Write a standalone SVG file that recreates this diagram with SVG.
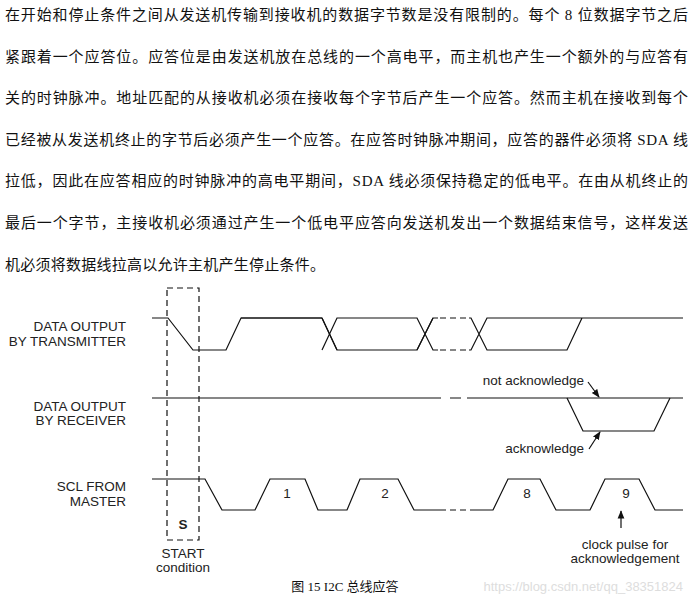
<svg xmlns="http://www.w3.org/2000/svg" width="695" height="598" viewBox="0 0 695 598">
<style>
.p{font-family:"Liberation Serif","Noto Sans CJK SC",serif;font-size:15px;fill:#111}
.l{font-family:"Liberation Sans",Arial,sans-serif;font-size:13.5px;fill:#222}
.w{fill:none;stroke:#111;stroke-width:1.2}
.d{fill:none;stroke:#111;stroke-width:1.2;stroke-dasharray:6,4}
</style>
<defs><marker id="a" viewBox="0 0 10 10" refX="9" refY="5" markerWidth="7" markerHeight="7" orient="auto"><path d="M0,1 L10,5 L0,9 z" fill="#111"/></marker></defs>
<rect width="695" height="598" fill="#fff"/>
<g id="paragraph">
<text class="p" x="5" y="20" textLength="683" lengthAdjust="spacing">在开始和停止条件之间从发送机传输到接收机的数据字节数是没有限制的。每个 8 位数据字节之后</text>
<text class="p" x="5" y="62" textLength="683" lengthAdjust="spacing">紧跟着一个应答位。应答位是由发送机放在总线的一个高电平，而主机也产生一个额外的与应答有</text>
<text class="p" x="5" y="103" textLength="683" lengthAdjust="spacing">关的时钟脉冲。地址匹配的从接收机必须在接收每个字节后产生一个应答。然而主机在接收到每个</text>
<text class="p" x="5" y="145" textLength="683" lengthAdjust="spacing">已经被从发送机终止的字节后必须产生一个应答。在应答时钟脉冲期间，应答的器件必须将 SDA 线</text>
<text class="p" x="5" y="186" textLength="683" lengthAdjust="spacing">拉低，因此在应答相应的时钟脉冲的高电平期间，SDA 线必须保持稳定的低电平。在由从机终止的</text>
<text class="p" x="5" y="228" textLength="683" lengthAdjust="spacing">最后一个字节，主接收机必须通过产生一个低电平应答向发送机发出一个数据结束信号，这样发送</text>
<text class="p" x="5" y="270" textLength="320" lengthAdjust="spacing">机必须将数据线拉高以允许主机产生停止条件。</text>
</g>
<g id="labels" text-anchor="end">
<text class="l" x="126" y="331">DATA OUTPUT</text>
<text class="l" x="126" y="346">BY TRANSMITTER</text>
<text class="l" x="126" y="411">DATA OUTPUT</text>
<text class="l" x="126" y="425">BY RECEIVER</text>
<text class="l" x="126" y="491">SCL FROM</text>
<text class="l" x="126" y="506">MASTER</text>
</g>
<g id="start">
<path class="d" d="M167,288 H199 V540 H167 Z" stroke-dasharray="7,5"/>
<text class="l" x="183" y="529" text-anchor="middle" font-weight="bold">S</text>
<text class="l" x="183" y="558" text-anchor="middle">START</text>
<text class="l" x="183" y="572" text-anchor="middle">condition</text>
</g>
<g id="connectors">
<path class="w" d="M152,318 H168 L193,350 H226 L241,318 H322 L337,350 H417 L433,318 H438"/>
<path class="w" d="M322,350 L337,318 H417 L433,350 H438 M417,350 L433,318"/>
<path class="w" d="M322,318 L337,350 M241,318 H322"/>
<path class="d" d="M440,318 H469 M440,350 H469"/>
<path class="w" d="M469,318 H471 L487,350 H567 L582,318 M469,350 H471 L487,318 H683"/>
<path class="w" d="M152,398 H441 M450,398 H461 M467,398 H558"/>
<path class="w" d="M558,398 H683" stroke-width="2.2"/>
<path class="w" d="M567,398 L583,431 H654 L670,398"/>
<path class="w" d="M152,479 H205 L222,510 H255 L270,479 H305 L318,510 H347 L360,479 H398 L414,510 H440"/>
<path class="d" d="M440,510 H470"/>
<path class="w" d="M470,510 H493 L508,479 H540 L556,510 H590 L605,479 H639 L655,510 H683"/>
<path class="w" d="M588,382 L599,397" marker-end="url(#a)" stroke-width="1"/>
<path class="w" d="M589,449 L600,432" marker-end="url(#a)" stroke-width="1"/>
<path class="w" d="M621,528 V511" marker-end="url(#a)" stroke-width="1.3"/>
</g>
<g id="notes">
<text class="l" x="287" y="498" text-anchor="middle">1</text>
<text class="l" x="385" y="498" text-anchor="middle">2</text>
<text class="l" x="527" y="498" text-anchor="middle">8</text>
<text class="l" x="626" y="498" text-anchor="middle">9</text>
<text class="l" x="584" y="385" text-anchor="end">not acknowledge</text>
<text class="l" x="584" y="453" text-anchor="end">acknowledge</text>
<text class="l" x="625" y="549" text-anchor="middle">clock pulse for</text>
<text class="l" x="625" y="563" text-anchor="middle">acknowledgement</text>
</g>
<text x="345" y="591" text-anchor="middle" font-family="'Liberation Serif','Noto Sans CJK SC',serif" font-size="13" fill="#111">图 15 I2C 总线应答</text>
<text x="683" y="591" text-anchor="end" font-family="'Liberation Sans',sans-serif" font-size="13" fill="#ddd">https://blog.csdn.net/qq_38351824</text>
</svg>
